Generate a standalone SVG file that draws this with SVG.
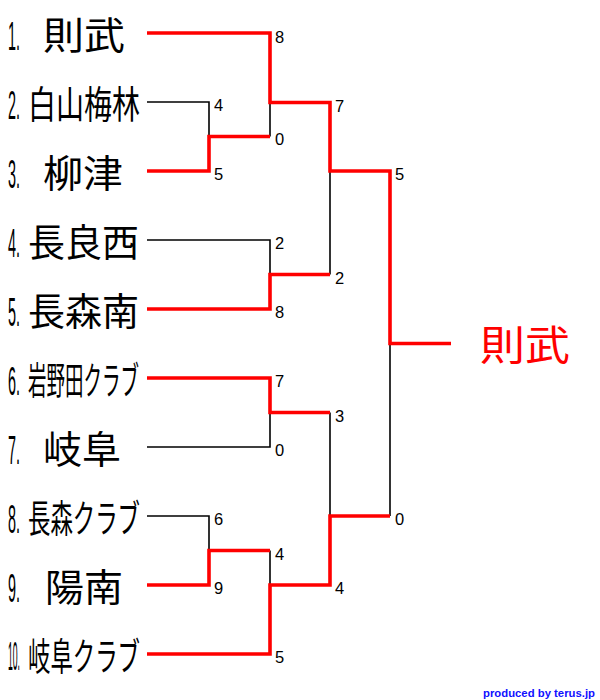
<svg xmlns="http://www.w3.org/2000/svg" width="600" height="700" viewBox="0 0 600 700">
<style>
.bg{fill:#fff}
.lose{fill:none;stroke:#000;stroke-width:1.6}
.win{fill:none;stroke:#f00;stroke-width:3.6;stroke-linejoin:miter}
.num{font-family:"Liberation Sans",Arial,sans-serif;font-size:41px;fill:#000}
.name{font-family:"Noto Sans CJK JP","Noto Sans CJK SC",sans-serif;font-size:38px;fill:#000}
.score{font-family:"Liberation Sans",Arial,sans-serif;font-size:16.5px;fill:#000}
.champ{font-family:"Noto Sans CJK JP","Noto Sans CJK SC",sans-serif;font-size:41px;fill:#f00}
.credit{font-family:"Liberation Sans",Arial,sans-serif;font-size:11.5px;font-weight:bold;fill:#1010ff}
</style>
<rect class="bg" x="0" y="0" width="600" height="700"/>
<g id="connectors">
<path class="lose" d="M147,102H209V136.5"/>
<path class="lose" d="M270,136.5V102.5"/>
<path class="lose" d="M147,240H270V274.5"/>
<path class="lose" d="M330,274.5V171"/>
<path class="lose" d="M147,447H270V412.5"/>
<path class="lose" d="M330,412.5V516"/>
<path class="lose" d="M147,516H209V550.5"/>
<path class="lose" d="M270,550.5V585"/>
<path class="lose" d="M390,516V343.5"/>
<path class="win" d="M147,33H270V102.5H330V171H390V343.5H451"/>
<path class="win" d="M147,171H209V136.5H270"/>
<path class="win" d="M147,309H270V274.5H330"/>
<path class="win" d="M147,378H270V412.5H330"/>
<path class="win" d="M147,585H209V550.5H270"/>
<path class="win" d="M147,654H270V585H330V516H390"/>
</g>
<g id="scores">
<text class="score" x="275" y="43">8</text>
<text class="score" x="275" y="145">0</text>
<text class="score" x="214" y="111">4</text>
<text class="score" x="214" y="180">5</text>
<text class="score" x="335" y="111.5">7</text>
<text class="score" x="335" y="283.5">2</text>
<text class="score" x="275" y="249">2</text>
<text class="score" x="275" y="318">8</text>
<text class="score" x="395" y="180">5</text>
<text class="score" x="395" y="525">0</text>
<text class="score" x="275" y="387">7</text>
<text class="score" x="275" y="456">0</text>
<text class="score" x="335" y="421.5">3</text>
<text class="score" x="335" y="594">4</text>
<text class="score" x="214" y="525">6</text>
<text class="score" x="214" y="594">9</text>
<text class="score" x="275" y="559.5">4</text>
<text class="score" x="275" y="663">5</text>
</g>
<g id="team1"><text class="num" x="8" y="50" textLength="12" lengthAdjust="spacingAndGlyphs">1.</text><text class="name" x="43" y="49" textLength="82" lengthAdjust="spacingAndGlyphs">則武</text></g>
<g id="team2"><text class="num" x="8" y="119" textLength="12" lengthAdjust="spacingAndGlyphs">2.</text><text class="name" x="28" y="118" textLength="112" lengthAdjust="spacingAndGlyphs">白山梅林</text></g>
<g id="team3"><text class="num" x="8" y="188" textLength="12" lengthAdjust="spacingAndGlyphs">3.</text><text class="name" x="43" y="187" textLength="80" lengthAdjust="spacingAndGlyphs">柳津</text></g>
<g id="team4"><text class="num" x="8" y="257" textLength="12" lengthAdjust="spacingAndGlyphs">4.</text><text class="name" x="28" y="256" textLength="111" lengthAdjust="spacingAndGlyphs">長良西</text></g>
<g id="team5"><text class="num" x="8" y="326" textLength="12" lengthAdjust="spacingAndGlyphs">5.</text><text class="name" x="28" y="325" textLength="111" lengthAdjust="spacingAndGlyphs">長森南</text></g>
<g id="team6"><text class="num" x="8" y="395" textLength="12" lengthAdjust="spacingAndGlyphs">6.</text><text class="name" x="28" y="394" textLength="111" lengthAdjust="spacingAndGlyphs">岩野田クラブ</text></g>
<g id="team7"><text class="num" x="8" y="464" textLength="12" lengthAdjust="spacingAndGlyphs">7.</text><text class="name" x="43" y="463" textLength="78" lengthAdjust="spacingAndGlyphs">岐阜</text></g>
<g id="team8"><text class="num" x="8" y="533" textLength="12" lengthAdjust="spacingAndGlyphs">8.</text><text class="name" x="28" y="532" textLength="112" lengthAdjust="spacingAndGlyphs">長森クラブ</text></g>
<g id="team9"><text class="num" x="8" y="602" textLength="12" lengthAdjust="spacingAndGlyphs">9.</text><text class="name" x="45" y="601" textLength="78" lengthAdjust="spacingAndGlyphs">陽南</text></g>
<g id="team10"><text class="num" x="8" y="670" textLength="12" lengthAdjust="spacingAndGlyphs">10.</text><text class="name" x="28" y="670" textLength="112" lengthAdjust="spacingAndGlyphs">岐阜クラブ</text></g>
<g id="champion"><text class="champ" x="480" y="360" textLength="90" lengthAdjust="spacingAndGlyphs">則武</text></g>
<g id="credit"><text class="credit" x="483" y="697" textLength="112" lengthAdjust="spacingAndGlyphs">produced by terus.jp</text></g>
</svg>
